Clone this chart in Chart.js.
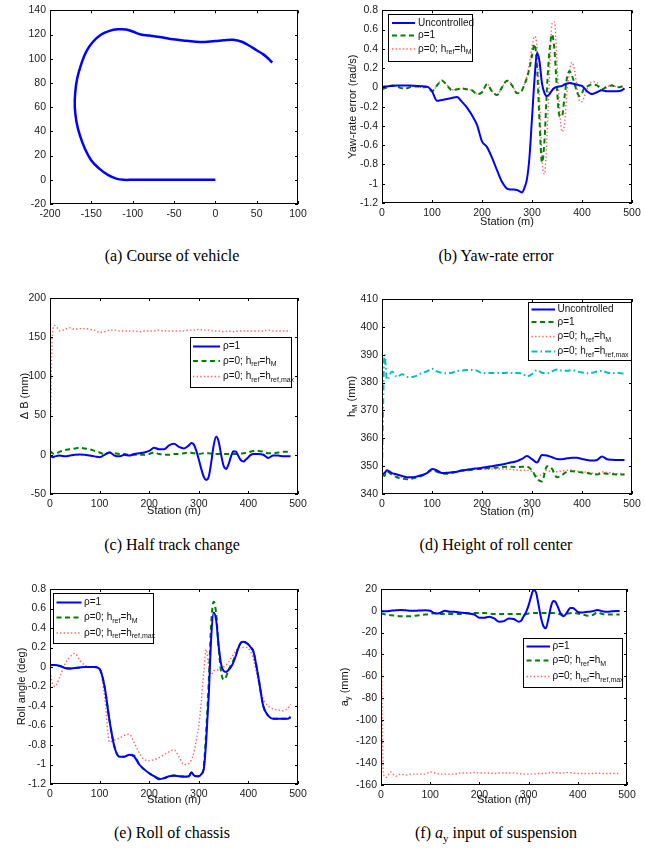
<!DOCTYPE html>
<html>
<head>
<meta charset="utf-8">
<script src="https://cdn.jsdelivr.net/npm/chart.js@4"></script>
<style>
  body { margin: 0; background: #fff; width: 645px; height: 852px; position: relative; overflow: hidden; }
  canvas { position: absolute; }
  .cap { position: absolute; width: 300px; text-align: center; white-space: nowrap;
         font: 16px/18px "Liberation Serif", "Times New Roman", serif; color: #000; }
</style>
</head>
<body>
<canvas id="course" width="320" height="230" style="left:0;top:0"></canvas>
<canvas id="yaw" width="325" height="230" style="left:320px;top:0"></canvas>
<canvas id="track" width="320" height="240" style="left:0;top:280px"></canvas>
<canvas id="height" width="325" height="240" style="left:320px;top:280px"></canvas>
<canvas id="roll" width="320" height="250" style="left:0;top:560px"></canvas>
<canvas id="ay" width="325" height="250" style="left:320px;top:560px"></canvas>

<div class="cap" style="left:22px;top:247px">(a) Course of vehicle</div>
<div class="cap" style="left:346px;top:247px">(b) Yaw-rate error</div>
<div class="cap" style="left:22px;top:536px">(c) Half track change</div>
<div class="cap" style="left:346px;top:536px">(d) Height of roll center</div>
<div class="cap" style="left:22px;top:824px">(e) Roll of chassis</div>
<div class="cap" style="left:346px;top:824px">(f) <i>a</i><sub style="font-size:11px">y</sub> input of suspension</div>

<script>
const FONT = '"Liberation Sans", Arial, Helvetica, sans-serif';
const TICK_LEN = 3;

// ---- (a) course of vehicle ----
const courseX = [
  0, -20, -40, -60, -80, -100, -111, -120, -130, -140, -150, -158, -164, -168, -170, -169.5,
  -167, -162, -156, -148, -138, -128, -118, -108, -100, -90, -80, -65, -51, -35, -18.6,
  0, 10, 21.6, 32, 41.8, 50, 58, 64, 68.8,
];
const courseY = [
  0, 0, 0, 0, 0, 0, 0, 1, 4, 9, 16, 26, 37, 48, 60, 72,
  84, 96, 106, 114, 120, 123, 124.3, 124.2, 122.5, 120, 119.2, 117.8, 116, 114.8, 113.8,
  114.6, 115.2, 115.6, 114, 110.5, 107, 103.6, 100.2, 96.8,
];

// ---- station grids (m) ----
const stationFine = [
  0, 5, 10, 20, 30, 40, 50, 60, 70, 80, 90,
  100, 110, 120, 130, 140, 150, 160, 170, 180, 190,
  200, 210, 220, 230, 240, 250, 260, 270, 280,
  285, 290, 295, 300, 305, 310, 315, 320, 325, 330,
  335, 340, 345, 350, 355, 360, 365, 370, 375, 380,
  385, 390, 395, 400, 405, 410,
  420, 430, 440, 450, 460, 470, 480, 485,
];
const stationCoarse = [
  0, 5, 10, 20, 30, 40, 50, 60, 70, 80, 90,
  100, 110, 120, 130, 140, 150, 160, 170, 180, 190,
  200, 210, 220, 230, 240, 250, 260, 270, 280, 290,
  300, 310, 320, 330, 340, 350, 360, 370, 380, 390,
  400, 410, 420, 430, 440, 450, 460, 470, 480, 485,
];

// ---- (b) yaw-rate error (rad/s), stationFine ----
const yawUncontrolled = [
  0.005, 0.008, 0.01, 0.015, 0.02, 0.02, 0.02, 0.018, 0.015, 0.012, 0.008,
  -0.04, -0.14, -0.13, -0.12, -0.11, -0.10, -0.15, -0.21, -0.29, -0.39,
  -0.56, -0.62, -0.73, -0.86, -0.98, -1.05, -1.06, -1.065, -1.09,
  -1.04, -0.95, -0.72, -0.32, 0.08, 0.36, 0.27, 0.04, -0.06, -0.09,
  -0.07, -0.03, -0.005, 0.005, 0.01, 0.015, 0.03, 0.04, 0.045, 0.04,
  0.035, 0.03, 0.02, 0.015, -0.01, -0.04,
  -0.07, -0.05, -0.03, -0.04, -0.04, -0.04, -0.03, -0.01,
];
const yawRho1 = [
  -0.02, -0.01, 0.0, 0.02, 0.01, -0.01, -0.01, 0.01, 0.01, 0.0, 0.005,
  -0.04, 0.02, 0.07, 0.02, -0.03, -0.02, -0.01, -0.02, -0.03, -0.07,
  -0.05, 0.03, -0.04, -0.08, 0.0, 0.07, 0.02, -0.06, -0.03,
  0.03, 0.1, 0.2, 0.33, 0.45, 0.22, -0.35, -0.78, -0.55, 0.0,
  0.38, 0.55, 0.38, -0.02, -0.3, -0.3, -0.1, 0.1, 0.17, 0.12,
  0.04, -0.05, -0.09, -0.06, 0.0, 0.01,
  0.03, 0.02, -0.02, 0.01, 0.02, 0.0, 0.01, 0.02,
];
const yawRho0 = [
  -0.02, -0.01, 0.0, 0.025, 0.015, -0.005, -0.01, 0.01, 0.01, 0.0, 0.005,
  -0.04, 0.02, 0.075, 0.025, -0.025, -0.02, -0.01, -0.02, -0.03, -0.07,
  -0.05, 0.035, -0.04, -0.08, 0.0, 0.075, 0.025, -0.06, -0.03,
  0.04, 0.12, 0.25, 0.42, 0.53, 0.42, -0.1, -0.75, -0.9, -0.5,
  0.12, 0.66, 0.68, 0.25, -0.2, -0.46, -0.38, -0.05, 0.17, 0.26,
  0.18, 0.0, -0.14, -0.15, -0.09, -0.02,
  0.06, 0.05, -0.04, 0.0, 0.03, 0.0, 0.01, 0.02,
];

// ---- (c) half track change (mm) ----
const trackRho1 = [ // stationFine
  -1, -3, -2, -1, -2, -1, 0, 0.5, 0, -1, -2,
  -3, 0, 3, -1, -2, 0, -1, 1, 2, 3,
  5, 9, 7, 7, 12, 14, 10, 8, 12,
  15, 13, 5, -6, -18, -28, -32, -28, -10, 12,
  23, 17, 0, -14, -18, -12, -2, 4.5, 4, -2,
  -7, -8.5, -6, -3, 0, 1,
  1, 0, -4, -1, -1, -2, -2, -2,
];
const trackRho0 = [ // stationCoarse
  5, 2, 1, 4, 6, 7, 8, 9, 8, 7, 5,
  3, 1, 3, 2, 1, 1, 0, 0, 0, 0,
  1, 3, 1, 0, 0, 1, 1, 2, 3, 2,
  1, 2, 2, 1, 1, 1, 1, 1, 1, 2,
  3, 5, 5, 4, 2, 2, 3, 4, 4, 4,
];
const trackRhoMax = [ // stationCoarse
  0, 156, 165, 158, 160, 162, 160, 161, 161, 160, 159,
  156, 157, 159, 159, 158, 158, 158, 158, 157, 158,
  158, 158, 159, 158, 158, 158, 158, 158, 159, 159,
  160, 159, 159, 158, 158, 157, 158, 157, 158, 158,
  158, 158, 158, 158, 159, 158, 158, 158, 158, 158,
];

// ---- (d) height of roll center h_M (mm), stationCoarse ----
const hmUncontrolled = [
  347, 347.5, 348.5, 347.5, 347, 346.5, 346, 346, 346.3, 346.8, 347.5,
  349, 348.5, 347.5, 347.6, 347.8, 348, 348.5, 348.7, 349, 349.2,
  349.4, 349.7, 350, 350.3, 350.6, 351, 351.4, 351.8, 352.6, 353.6,
  352.5, 351.3, 354, 353.8, 353.2, 352.6, 352.5, 352.8, 353, 353,
  352.6, 352.2, 352, 352.2, 353.5, 352.5, 352.3, 352.2, 352.2, 352.2,
];
const hmRho1 = [
  347, 346.5, 348, 347, 346, 345.5, 345.3, 345.5, 346, 346.5, 347.5,
  348.5, 348, 347.3, 347.3, 347.5, 348, 348.3, 348.5, 348.7, 349,
  349, 349.2, 349.4, 349.5, 349.7, 349.8, 349.8, 349.6, 349.8, 349.8,
  348.5, 345.5, 344.5, 350, 349, 346, 346.8, 348, 348.2, 348,
  347.7, 347.5, 347.2, 347, 347.5, 347.3, 347.2, 347, 347, 347,
];
const hmRho0 = [
  347, 347, 348.2, 347.2, 346.5, 346, 345.8, 345.8, 346.2, 346.7, 347.5,
  348.7, 348.2, 347.5, 347.5, 347.7, 348.1, 348.4, 348.6, 348.8, 349,
  349, 349, 349, 349, 349, 349, 348.8, 348.6, 348.5, 348.5,
  348, 346.5, 347, 348.5, 348, 348, 348.3, 348.5, 348.5, 348.3,
  348, 347.8, 347.5, 347.3, 348, 347.7, 347.5, 347.3, 347.2, 347.2,
];
const hmRhoMax = [
  348, 390, 381, 384, 382, 383, 382, 382, 382.5, 383.5, 384,
  385, 384, 383.5, 383.3, 383.5, 384.2, 384.3, 384.5, 384.5, 384.3,
  383.4, 383.5, 383.4, 383.5, 383.4, 383.5, 383.4, 383.4, 383.3, 382.2,
  383, 384.5, 383.5, 383.3, 384, 384.7, 384.3, 384.2, 384.5, 384,
  383.6, 383.3, 383.5, 384, 384.2, 383.6, 383.3, 383.5, 383.3, 383.2,
];

// ---- (e) roll angle (deg), stationFine ----
const rollRho1 = [
  0.02, 0.02, 0.02, 0.01, -0.01, -0.015, -0.01, -0.005, 0.0, 0.0, 0.0,
  -0.02, -0.2, -0.55, -0.82, -0.92, -0.92, -0.9, -0.92, -1.0, -1.05,
  -1.09, -1.12, -1.15, -1.14, -1.12, -1.115, -1.12, -1.125, -1.12,
  -1.08, -1.11, -1.12, -1.12, -1.1, -1.05, -0.75, -0.3, 0.3, 0.56,
  0.48, 0.22, 0.03, -0.04, -0.05, -0.03, 0.0, 0.05, 0.12, 0.2,
  0.25, 0.26, 0.25, 0.23, 0.2, 0.16,
  -0.1, -0.4, -0.5, -0.53, -0.53, -0.53, -0.53, -0.51,
];
const rollRho0 = [
  0.015, 0.02, 0.02, 0.01, -0.01, -0.015, -0.01, -0.005, 0.0, 0.0, 0.0,
  -0.02, -0.2, -0.55, -0.82, -0.92, -0.92, -0.9, -0.91, -1.0, -1.05,
  -1.09, -1.12, -1.14, -1.14, -1.12, -1.11, -1.12, -1.12, -1.12,
  -1.09, -1.11, -1.12, -1.12, -1.1, -1.02, -0.65, -0.15, 0.45, 0.67,
  0.55, 0.2, -0.05, -0.13, -0.1, -0.03, 0.02, 0.07, 0.13, 0.2,
  0.25, 0.26, 0.25, 0.23, 0.2, 0.16,
  -0.1, -0.4, -0.5, -0.53, -0.53, -0.53, -0.53, -0.52,
];
const rollRhoMax = [
  -0.05, -0.17, -0.2, -0.1, 0.03, 0.1, 0.14, 0.07, 0.02, 0.0, 0.0,
  -0.03, -0.3, -0.77, -0.75, -0.73, -0.7, -0.69, -0.78, -0.88, -0.95,
  -0.96, -0.95, -0.93, -0.9, -0.87, -0.85, -0.92, -1.0, -0.99,
  -0.95, -0.88, -0.75, -0.6, -0.35, -0.05, 0.18, 0.0, -0.08, -0.04,
  -0.03, -0.03, -0.02, 0.0, 0.02, 0.05, 0.09, 0.13, 0.17, 0.2,
  0.2, 0.2, 0.2, 0.19, 0.15, 0.08,
  -0.15, -0.33, -0.4, -0.43, -0.44, -0.45, -0.42, -0.38,
];

// ---- (f) a_y input (mm) ----
const ayRho1 = [ // stationFine
  0, -0.5, -0.5, 0, 0.5, 0.8, 0.5, 0, 0, 0.3, 0.5,
  0, -2.5, -2, 0, -1, -1, -1.5, -2, -2.5, -3.5,
  -6.5, -6.5, -5.5, -7, -10, -9.5, -7, -7.5, -10,
  -9, -5, -1, 5, 13, 19, 17, 6, -6, -14,
  -16, -8, 3, 9, 8, 3, -2.5, -5, -3.5, 0,
  2.5, 2.5, 1, -1, -1.5, -1.5,
  -1, -0.5, 0.8, -0.5, -1, -0.5, -0.3, -0.3,
];
const ayRho0 = [ // stationCoarse
  -2, -3, -3.5, -4, -4.5, -5, -5, -5, -4.5, -4, -3.5,
  -3, -2, -3, -3, -3, -3, -3, -2.5, -2.5, -2,
  -2, -2, -2.5, -3, -3, -3, -3, -3, -3, -3.5,
  -2.5, -2, -2, -2, -2, -2, -3, -3.5, -2.5, -2,
  -2.5, -3.5, -4.5, -4, -1.5, -3, -3.5, -3.5, -3.5, -3.5,
];
const ayRhoMax = [ // stationCoarse
  -5, -150, -153, -148, -152, -150, -151, -150, -150, -150, -150,
  -148, -149, -150, -150, -150, -150, -149, -149, -149, -148.5,
  -149, -149, -149, -149.5, -149, -149, -149, -149, -149.5, -150,
  -150, -150, -149.5, -149.5, -149, -148.5, -149, -149, -148.5, -149,
  -149.5, -149.5, -149.5, -149.5, -149, -149.5, -149.5, -149.5, -149.5, -149.5,
];

// line styles, MATLAB look
const SOLID_BLUE = { borderColor: 'rgb(0,0,255)', borderWidth: 2, borderDash: [] };
const DASH_GREEN = { borderColor: 'rgb(0,128,0)', borderWidth: 2, borderDash: [5, 3.5] };
const DOT_RED = { borderColor: 'rgba(255,70,70,0.85)', borderWidth: 1.4, borderDash: [1.4, 2.2] };
const DASHDOT_CYAN = { borderColor: 'rgb(0,191,191)', borderWidth: 2, borderDash: [6, 3, 1.5, 3] };

const series = (label, xs, ys, style) => ({
  label,
  data: xs.map((x, i) => ({ x, y: ys[i] })),
  pointRadius: 0,
  fill: false,
  cubicInterpolationMode: 'monotone',
  ...style,
});

const panels = [
  {
    id: 'course', area: [50, 9, 298, 204], xRange: [-200, 100, 50], yRange: [-20, 140, 20],
    datasets: [{ ...series('course', courseX, courseY, SOLID_BLUE), borderWidth: 2.5,
                 cubicInterpolationMode: 'default', tension: 0.4, showLine: true }],
  },
  {
    id: 'yaw', area: [62, 9, 312, 203], xRange: [0, 500, 100], yRange: [-1.2, 0.8, 0.2],
    xTitle: ['Station (m)', 222], yTitle: ['Yaw-rate error (rad/s)', 32.5],
    legend: { box: [68, 14, 84, 47], rows: [23, 35.5, 49], sample: [72, 95], textX: 98 },
    datasets: [
      series('Uncontrolled', stationFine, yawUncontrolled, SOLID_BLUE),
      series('ρ=1', stationFine, yawRho1, DASH_GREEN),
      series('ρ=0; h_{ref}=h_{M}', stationFine, yawRho0, DOT_RED),
    ],
  },
  {
    id: 'track', area: [50, 18, 298, 214], xRange: [0, 500, 100], yRange: [-50, 200, 50],
    xTitle: ['Station (m)', 231], yTitle: ['Δ B (mm)', 25],
    legend: { box: [190, 57, 101, 50], rows: [66.5, 81, 96.5], sample: [193, 220], textX: 223 },
    datasets: [
      series('ρ=1', stationFine, trackRho1, SOLID_BLUE),
      series('ρ=0; h_{ref}=h_{M}', stationCoarse, trackRho0, DASH_GREEN),
      series('ρ=0; h_{ref}=h_{ref,max}', stationCoarse, trackRhoMax, DOT_RED),
    ],
  },
  {
    id: 'height', area: [62, 19, 312, 214], xRange: [0, 500, 100], yRange: [340, 410, 10],
    xTitle: ['Station (m)', 232], yTitle: ['h_{M} (mm)', 31.5],
    legend: { box: [208, 22, 103, 58], rows: [29.5, 42, 56.5, 71.5], sample: [211.5, 235], textX: 237.5 },
    datasets: [
      series('Uncontrolled', stationCoarse, hmUncontrolled, SOLID_BLUE),
      series('ρ=1', stationCoarse, hmRho1, DASH_GREEN),
      series('ρ=0; h_{ref}=h_{M}', stationCoarse, hmRho0, DOT_RED),
      series('ρ=0; h_{ref}=h_{ref,max}', stationCoarse, hmRhoMax, DASHDOT_CYAN),
    ],
  },
  {
    id: 'roll', area: [50, 29, 298, 224], xRange: [0, 500, 100], yRange: [-1.2, 0.8, 0.2],
    xTitle: ['Station (m)', 240], yTitle: ['Roll angle (deg)', 21.5],
    legend: { box: [53, 33, 100, 50], rows: [42.5, 57.5, 73], sample: [56.5, 81.5], textX: 84 },
    datasets: [
      series('ρ=1', stationFine, rollRho1, SOLID_BLUE),
      series('ρ=0; h_{ref}=h_{M}', stationFine, rollRho0, DASH_GREEN),
      series('ρ=0; h_{ref}=h_{ref,max}', stationFine, rollRhoMax, DOT_RED),
    ],
  },
  {
    id: 'ay', area: [61, 29, 307, 225], xRange: [0, 500, 100], yRange: [-160, 20, 20],
    xTitle: ['Station (m)', 240], yTitle: ['a_{y} (mm)', 24.5],
    legend: { box: [203, 78, 99, 49], rows: [86.5, 100.5, 116.5], sample: [206.5, 230], textX: 232.5 },
    datasets: [
      series('ρ=1', stationFine, ayRho1, SOLID_BLUE),
      series('ρ=0; h_{ref}=h_{M}', stationCoarse, ayRho0, DASH_GREEN),
      series('ρ=0; h_{ref}=h_{ref,max}', stationCoarse, ayRhoMax, DOT_RED),
    ],
  },
];

// draw text with _{sub} parts, returns width
const drawRich = (ctx, text, x, y, size, measureOnly) => {
  const parts = text.split(/(_\{[^}]*\})/).filter(Boolean);
  let cx = x;
  parts.forEach((p) => {
    const sub = p.startsWith('_{');
    const t = sub ? p.slice(2, -1) : p;
    ctx.font = (sub ? size * 0.7 : size) + 'px ' + FONT;
    if (!measureOnly) ctx.fillText(t, cx, sub ? y + size * 0.32 : y);
    cx += ctx.measureText(t).width;
  });
  return cx - x;
};

const matlabAxes = {
  id: 'matlab',
  afterDatasetsDraw(chart) {
    const { ctx, chartArea: a, scales } = chart;
    ctx.save();
    ctx.strokeStyle = '#000';
    ctx.lineWidth = 1;
    ctx.setLineDash([]);
    ctx.beginPath();
    scales.x.ticks.forEach((t) => {
      const px = Math.round(scales.x.getPixelForValue(t.value)) + 0.5;
      ctx.moveTo(px, a.bottom); ctx.lineTo(px, a.bottom - TICK_LEN);
      ctx.moveTo(px, a.top); ctx.lineTo(px, a.top + TICK_LEN);
    });
    scales.y.ticks.forEach((t) => {
      const py = Math.round(scales.y.getPixelForValue(t.value)) + 0.5;
      ctx.moveTo(a.left, py); ctx.lineTo(a.left + TICK_LEN, py);
      ctx.moveTo(a.right, py); ctx.lineTo(a.right - TICK_LEN, py);
    });
    ctx.stroke();
    ctx.strokeRect(Math.round(a.left) + 0.5, Math.round(a.top) + 0.5,
                   Math.round(a.width) - 1, Math.round(a.height) - 1);
    ctx.restore();
  },
  afterDraw(chart, args, opts) {
    const { ctx, chartArea: a } = chart;
    ctx.save();
    ctx.fillStyle = '#111';
    ctx.textBaseline = 'middle';
    if (opts.xTitle) {
      ctx.font = '11px ' + FONT;
      ctx.textAlign = 'center';
      ctx.fillText(opts.xTitle[0], (a.left + a.right) / 2, opts.xTitle[1]);
    }
    if (opts.yTitle) {
      ctx.textAlign = 'left';
      const w = drawRich(ctx, opts.yTitle[0], 0, 0, 11, true);
      ctx.save();
      ctx.translate(opts.yTitle[1], (a.top + a.bottom) / 2);
      ctx.rotate(-Math.PI / 2);
      drawRich(ctx, opts.yTitle[0], -w / 2, 0, 11);
      ctx.restore();
    }
    const lg = opts.legend;
    if (lg) {
      const [bx, by, bw, bh] = lg.box;
      ctx.fillStyle = '#fff';
      ctx.fillRect(bx, by, bw, bh);
      ctx.strokeStyle = '#000';
      ctx.lineWidth = 1;
      ctx.strokeRect(bx + 0.5, by + 0.5, bw, bh);
      chart.data.datasets.forEach((ds, i) => {
        const y = lg.rows[i];
        ctx.strokeStyle = ds.borderColor;
        ctx.lineWidth = ds.borderWidth;
        ctx.setLineDash(ds.borderDash || []);
        ctx.beginPath();
        ctx.moveTo(lg.sample[0], y);
        ctx.lineTo(lg.sample[1], y);
        ctx.stroke();
        ctx.setLineDash([]);
        ctx.fillStyle = '#111';
        ctx.textAlign = 'left';
        drawRich(ctx, ds.label, lg.textX, y, 10);
      });
    }
    ctx.restore();
  },
};
Chart.register(matlabAxes);

const tickLabel = (v) => String(Number(v.toFixed(3)));

panels.forEach((p) => {
  const canvas = document.getElementById(p.id);
  const [left, top, right, bottom] = p.area;
  const W = canvas.width;
  const H = canvas.height;
  const tickFont = { family: FONT, size: 10.5 };
  const axis = (range, fit) => ({
    type: 'linear',
    min: range[0],
    max: range[1],
    ticks: { stepSize: range[2], autoSkip: false, maxRotation: 0, padding: 4,
             font: tickFont, color: '#1a1a1a', callback: tickLabel },
    grid: { display: false, drawTicks: false },
    border: { display: false },
    afterFit: fit,
  });
  new Chart(canvas, {
    type: p.id === 'course' ? 'scatter' : 'line',
    data: { datasets: p.datasets },
    options: {
      responsive: false,
      animation: false,
      devicePixelRatio: 1,
      layout: { padding: { left: 0, top, right: W - right, bottom: 0 } },
      plugins: {
        legend: { display: false },
        tooltip: { enabled: false },
        matlab: { xTitle: p.xTitle, yTitle: p.yTitle, legend: p.legend },
      },
      scales: {
        x: axis(p.xRange, (s) => { s.height = H - bottom; }),
        y: axis(p.yRange, (s) => { s.width = left; }),
      },
    },
  });
});
</script>
</body>
</html>
